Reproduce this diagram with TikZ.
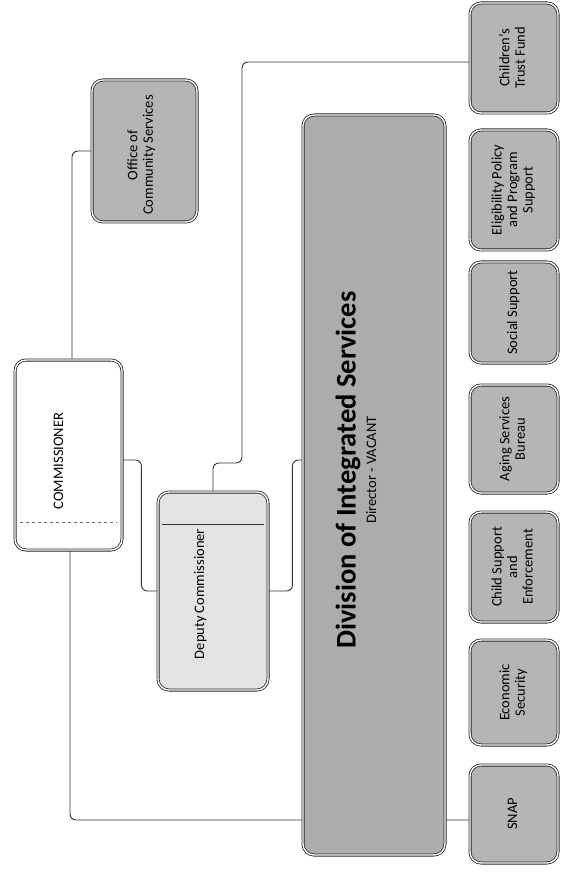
\documentclass[tikz,border=0pt]{standalone}
\usepackage{fontspec}
\setmainfont{Carlito}
\usetikzlibrary{positioning,backgrounds}
\newcommand{\vtext}[1]{\rotatebox{90}{\begin{tabular}{@{}c@{}}#1\end{tabular}}}
\definecolor{boxgrey}{gray}{0.71}
\definecolor{lightgrey}{gray}{0.89}
\tikzset{
  orgbox/.style={draw=black!85, double=white, double distance=1.4pt, line width=0.8pt, rounded corners=11pt, inner sep=0pt},
  link/.style={draw=black!80, line width=0.9pt, rounded corners=6pt},
  boxtext/.style={font=\fontsize{14.5}{15.5}\selectfont, inner sep=0pt}
}
\begin{document}
\begin{tikzpicture}[x=1pt, y=-1pt]
\useasboundingbox (0,0) rectangle (564,882);
% top levels
 \begin{scope}[every node/.style={orgbox}]
   \node (com) [fill=white, minimum width=107pt, minimum height=190pt] at (68.5,455) {};
   \node (ocs) [fill=boxgrey, minimum width=105pt, minimum height=142pt] at (144.5,151) {};
   \node (dep) [fill=lightgrey, minimum width=110pt, minimum height=198pt] at (213,591) {};
   \node (dis) [fill=boxgrey!95!black, minimum width=142pt, minimum height=740pt] at (374,485) {};
 \end{scope}
% bureaus
 \begin{scope}[every node/.style={orgbox, fill=boxgrey, minimum width=88pt}]
   \node (ctf) [minimum height=110pt] at (514,58) {};
   \node (epp) [minimum height=120pt] at (514,190) {};
   \node (soc) [minimum height=101pt] at (514,312.5) {};
   \node (asb) [minimum height=108pt] at (514,439) {};
   \node (cse) [minimum height=110pt] at (514,567) {};
   \node (eco) [minimum height=105pt] at (514,692.5) {};
   \node (snap) [minimum height=98pt] at (514,814) {};
 \end{scope}
% texts
 \begin{scope}[every node/.style={boxtext}]
   \node (comtxt) at (60,461) {\vtext{COMMISSIONER}};
   \node (ocstxt) at (142,155) {\vtext{Office of\\Community Services}};
   \node (deptxt) at (201,594) {\vtext{Deputy Commissioner}};
   \node (distxt) at (348,470) {\vtext{\fontsize{28.5}{30}\selectfont\bfseries Division of Integrated Services}};
   \node (dirtxt) at (373,470) {\vtext{Director - VACANT}};
   \node (ctftxt) at (ctf) {\vtext{Children's\\Trust Fund}};
   \node (epptxt) at (epp) {\vtext{Eligibility Policy\\and Program\\Support}};
   \node (soctxt) at (soc) {\vtext{Social Support}};
   \node (asbtxt) at (asb) {\vtext{Aging Services\\Bureau}};
   \node (csetxt) at (cse) {\vtext{Child Support\\and\\Enforcement}};
   \node (ecotxt) at (eco) {\vtext{Economic\\Security}};
   \node (snaptxt) at (snap) {\vtext{SNAP}};
 \end{scope}
 \draw[black!60, dashed, thin] (20,522) -- (117,522);
 \draw[black!80, thin] (162,524) -- (264,524);
% connectors
 \begin{scope}[on background layer]
   \draw[link] ([xshift=3.5pt]com.north) |- (ocs.west);
   \draw[link] ([xshift=1.5pt]com.south) |- ([yshift=-6pt]snap.west);
   \draw[link] ([yshift=-5pt]com.east) -- ++(19,0) |- (dep.west);
   \draw[link] (dep.east) -- ++(24,0) |- (dis.west |- 0,460);
   \draw[link] (dep.north) |- (242,463) |- ([yshift=-4pt]ctf.west);
 \end{scope}
\end{tikzpicture}
\end{document}
